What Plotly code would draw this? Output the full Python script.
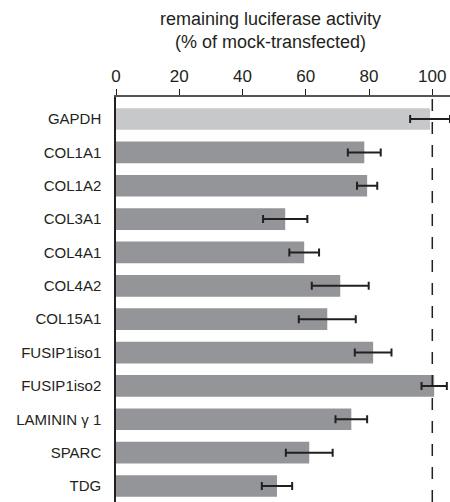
import plotly.graph_objects as go

categories = ["GAPDH", "COL1A1", "COL1A2", "COL3A1", "COL4A1", "COL4A2", "COL15A1",
              "FUSIP1iso1", "FUSIP1iso2", "LAMININ \u03b3 1", "SPARC", "TDG"]
values = [99.3, 78.5, 79.4, 53.5, 59.5, 70.9, 66.8, 81.3, 100.6, 74.4, 61.1, 50.9]
errors = [6.3, 5.2, 3.2, 7.0, 4.7, 9.0, 9.0, 5.8, 4.0, 5.0, 7.4, 4.8]
x_ticks = [0, 20, 40, 60, 80, 100]
reference_level = 100

bar_colors = ["#c7c8ca"] + ["#939598"] * (len(categories) - 1)
FONT = "Liberation Sans, Arial, Helvetica, sans-serif"

fig = go.Figure()
fig.add_trace(go.Bar(
    y=categories, x=values, orientation="h",
    marker=dict(color=bar_colors, line=dict(width=0)),
    error_x=dict(type="data", array=errors, visible=True,
                 color="#231f20", thickness=2, width=4),
    width=0.65,
))

fig.add_shape(type="line", xref="x", yref="paper",
              x0=reference_level, x1=reference_level, y0=0, y1=1,
              line=dict(color="#231f20", width=1.5, dash="12px,11px"))

fig.add_annotation(text="remaining luciferase activity<br>(% of mock-transfected)",
                   xref="x", yref="paper", x=48.7, y=1, yanchor="bottom",
                   yshift=43, showarrow=False,
                   font=dict(family=FONT, size=18, color="#231f20"))

fig.update_layout(
    width=450, height=502,
    margin=dict(l=116, r=0, t=97, b=0, pad=0),
    paper_bgcolor="white", plot_bgcolor="white",
    showlegend=False,
    font=dict(family=FONT, color="#231f20"),
    xaxis=dict(side="top", range=[0, 105.6], tickvals=x_ticks, automargin=False,
               ticks="outside", ticklen=6, tickwidth=1.2, tickcolor="#231f20",
               showline=True, linecolor="#555555", linewidth=1.5,
               showgrid=False, zeroline=False,
               tickfont=dict(size=17, family=FONT, color="#231f20")),
    yaxis=dict(range=[11.48, -0.66], ticks="outside", ticklen=10,
               tickcolor="rgba(0,0,0,0)", showline=True, automargin=False,
               linecolor="#231f20", linewidth=1.5, showgrid=False,
               zeroline=False,
               tickfont=dict(size=15, family=FONT, color="#231f20")),
)

# remove the default page margin so the 450x502 figure fills the window exactly
fig.write_html("out.html",
               config={"displayModeBar": False},
               post_script="document.body.style.margin='0';"
                           "document.body.style.overflow='hidden';")
